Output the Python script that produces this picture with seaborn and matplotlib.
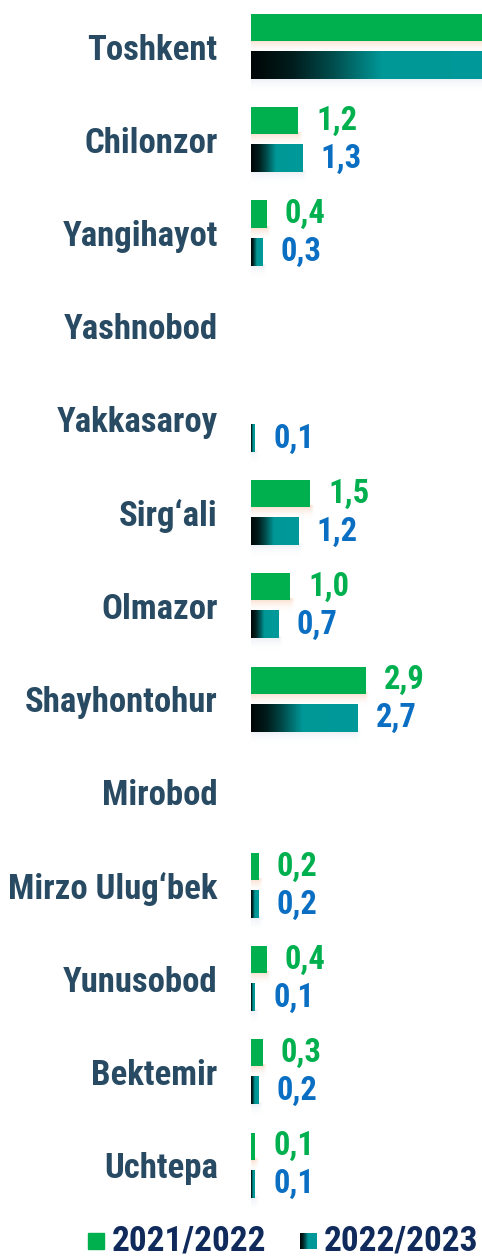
import numpy as np
import pandas as pd
import matplotlib
matplotlib.use("Agg")
import matplotlib.pyplot as plt
import seaborn as sns
from matplotlib import font_manager as fm
from matplotlib.colors import LinearSegmentedColormap, to_rgb
from matplotlib.patches import Rectangle

# ---- data ----
districts = ["Toshkent", "Chilonzor", "Yangihayot", "Yashnobod", "Yakkasaroy",
             "Sirg‘ali", "Olmazor", "Shayhontohur", "Mirobod", "Mirzo Ulug‘bek",
             "Yunusobod", "Bektemir", "Uchtepa"]
periods = ["2021/2022", "2022/2023"]
val_2122 = [8.0, 1.2, 0.4, np.nan, np.nan, 1.5, 1.0, 2.9, np.nan, 0.2, 0.4, 0.3, 0.1]
val_2223 = [6.9, 1.3, 0.3, np.nan, 0.1, 1.2, 0.7, 2.7, np.nan, 0.2, 0.1, 0.2, 0.1]

GREEN = "#00b04f"
TEAL = "#009999"
LABEL_C = "#284b63"
LEGEND_C = "#102a5c"
BLUE_TXT = "#0a6fc2"
XMAX = 5.85


def pick_font():
    """find a bold condensed face, fall back to Roboto bold"""
    best = None
    for f in fm.fontManager.ttflist:
        tag = (f.name + " " + str(f.fname)).lower()
        if not ("condensed" in tag or "narrow" in tag):
            continue
        if "extra" in tag or "semi" in tag or "italic" in tag or "oblique" in tag:
            continue
        w = f.weight if isinstance(f.weight, int) else (700 if "bold" in str(f.weight) else 400)
        if w < 600 and "bold" not in tag:
            continue
        rank = 0 if "roboto" in tag else 1 if "liberation" in tag else 2
        if best is None or rank < best[0]:
            best = (rank, f.fname)
    if best:
        return fm.FontProperties(fname=best[1])
    return fm.FontProperties(family="Roboto", weight="bold")


base_fp = pick_font()


def fp(size):
    p = base_fp.copy()
    p.set_size(size)
    if p.get_file() is None:
        p.set_weight("bold")
    return p


df = pd.DataFrame({
    "district": districts * 2,
    "period": [periods[0]] * len(districts) + [periods[1]] * len(districts),
    "value": val_2122 + val_2223,
})

sns.set_style("white")
fig = plt.figure(figsize=(4.82, 12.56), dpi=100)
ax = fig.add_axes([251 / 482, 0, 231 / 482, 1])
ax.patch.set_alpha(0)

sns.barplot(data=df, y="district", x="value", hue="period", order=districts,
            hue_order=periods, palette=[GREEN, TEAL], orient="h", width=0.816,
            saturation=1, legend=False, ax=ax)

teal_cmap = LinearSegmentedColormap.from_list(
    "teal_grad", [(0, "#000606"), (0.15, "#001c1c"), (0.3, "#004d4d"),
                  (0.48, "#009797"), (1, TEAL)])
ramp = np.linspace(0, 1, 256).reshape(1, -1)
bar_h = 0.29


def shadow(x1, y_top, color, depth=0.14, alpha=0.45):
    # soft glow under a bar, fading downwards and at the right end
    rgb = to_rgb(color)
    ny, nx = 40, 60
    a = alpha * (1 - np.linspace(0, 1, ny)) ** 2
    ext = 0.1
    xs = np.linspace(0, x1 + ext, nx)
    fx = np.clip((x1 + ext - xs) / ext, 0, 1)
    img = np.zeros((ny, nx, 4))
    img[..., :3] = rgb
    img[..., 3] = a[:, None] * fx[None, :]
    ax.imshow(img, extent=(0, x1 + ext, y_top + depth, y_top - 0.02), aspect="auto",
              interpolation="bilinear", zorder=1)


for p in list(ax.patches):
    w = p.get_width()
    if not np.isfinite(w) or w <= 0:
        continue
    yc = p.get_y() + p.get_height() / 2
    p.set_y(yc - bar_h / 2)
    p.set_height(bar_h)
    p.set_edgecolor("none")
    p.set_zorder(3)
    is_green = np.allclose(p.get_facecolor()[:3], to_rgb(GREEN), atol=0.02)
    bottom = yc + bar_h / 2
    if is_green:
        shadow(w, bottom, "#f2b48c", alpha=0.5)
    else:
        shadow(w, bottom, "#d5ddea", alpha=0.55)
        p.set_visible(False)
        ax.imshow(ramp, cmap=teal_cmap, vmin=0, vmax=1, aspect="auto",
                  extent=(0, w, yc + bar_h / 2, yc - bar_h / 2),
                  interpolation="bilinear", zorder=3)

# value labels
for i, (a, b) in enumerate(zip(val_2122, val_2223)):
    for v, off, col in [(a, -0.204, GREEN), (b, 0.204, BLUE_TXT)]:
        if np.isnan(v) or v > XMAX:
            continue
        ax.annotate(f"{v:.1f}".replace(".", ","), xy=(v, i + off), xytext=(13, 0),
                    textcoords="offset points", ha="left", va="center",
                    color=col, fontproperties=fp(23.5), zorder=5)

ax.set_xlim(0, XMAX)
ax.set_ylim(12.975, -0.5)
ax.set_xlabel("")
ax.set_ylabel("")
ax.set_xticks([])
ax.tick_params(axis="y", length=0, pad=24)
ax.set_yticks(range(len(districts)))
ax.set_yticklabels(districts)
for t in ax.get_yticklabels():
    t.set_fontproperties(fp(25))
    t.set_color(LABEL_C)
sns.despine(ax=ax, left=True, bottom=True)

# legend at the bottom
H = 1256
fig.patches.append(Rectangle((88 / 482, (H - 1249) / H), 16 / 482, 16 / H,
                             transform=fig.transFigure, color=GREEN))
fig.text(112 / 482, (H - 1241) / H, periods[0], ha="left", va="center",
         color=LEGEND_C, fontproperties=fp(25.5))
lax = fig.add_axes([300 / 482, (H - 1249) / H, 17 / 482, 16 / H])
lax.imshow(ramp, cmap=teal_cmap, aspect="auto", interpolation="bilinear")
lax.axis("off")
fig.text(324 / 482, (H - 1241) / H, periods[1], ha="left", va="center",
         color=LEGEND_C, fontproperties=fp(25.5))

fig.savefig("out.png", dpi=100)
